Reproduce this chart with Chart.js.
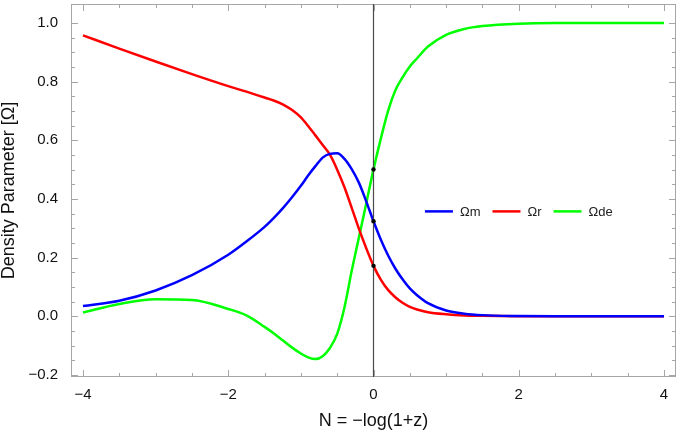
<!DOCTYPE html>
<html>
<head>
<meta charset="utf-8">
<style>
  html, body { margin: 0; padding: 0; background: #fff; }
  #wrap { width: 680px; height: 434px; }
</style>
<script src="https://cdn.jsdelivr.net/npm/chart.js@4.4.0/dist/chart.umd.min.js"></script>
</head>
<body>
<div id="wrap"><canvas id="chart" width="680" height="434"></canvas></div>
<script>
  // N = -log(1+z), shared by all three curves
  const nValues = [-4, -3.5, -3, -2.5, -2, -1.75, -1.5, -1.375, -1.25, -1.125, -1, -0.9, -0.8, -0.7, -0.6, -0.5, -0.4, -0.3, -0.2, -0.1,
                   0, 0.1, 0.2, 0.3, 0.4, 0.5, 0.6, 0.75, 1, 1.25, 1.5, 2, 2.5, 3, 4];

  const omegaM = [0.035, 0.053, 0.088, 0.14, 0.21, 0.255, 0.305, 0.335, 0.368, 0.405, 0.445, 0.48, 0.512, 0.541, 0.554, 0.556, 0.537, 0.502, 0.455, 0.392,
                  0.324, 0.262, 0.208, 0.163, 0.126, 0.095, 0.072, 0.045, 0.02, 0.009, 0.004, 0.001, 0, 0, 0];

  const omegaR = [0.958, 0.913, 0.869, 0.826, 0.785, 0.766, 0.746, 0.736, 0.723, 0.704, 0.678, 0.649, 0.617, 0.584, 0.551, 0.5, 0.44, 0.37, 0.298, 0.232,
                  0.172, 0.125, 0.09, 0.065, 0.046, 0.032, 0.023, 0.014, 0.007, 0.003, 0.0015, 0.0003, 0, 0, 0];

  const omegaDE = [0.013, 0.042, 0.058, 0.056, 0.025, 0.003, -0.036, -0.058, -0.082, -0.106, -0.127, -0.14, -0.146, -0.136, -0.108, -0.06, 0.03, 0.155, 0.27, 0.385,
                   0.501, 0.605, 0.7, 0.77, 0.815, 0.852, 0.88, 0.92, 0.96, 0.98, 0.99, 0.998, 1, 1, 1];

  // present-day values marked at N = 0
  const todayN = [0, 0, 0];
  const todayOmega = [0.501, 0.324, 0.172];

  const seriesLabels = ["\u03A9m", "\u03A9r", "\u03A9de"];
  const xTicks = [-4, -2, 0, 2, 4];
  const yTicks = [-0.2, 0, 0.2, 0.4, 0.6, 0.8, 1.0];
  const xRange = [-4.165, 4.165];
  const yRange = [-0.207, 1.065];

  const FONT = "'Liberation Sans', Arial, sans-serif";

  function pts(xs, ys) {
    return xs.map((x, i) => ({ x: x, y: ys[i] }));
  }

  function curve(label, ys, color) {
    return {
      label: label,
      data: pts(nValues, ys),
      borderColor: color,
      backgroundColor: color,
      borderWidth: 2.5,
      pointRadius: 0,
      cubicInterpolationMode: "monotone",
      fill: false
    };
  }

  // frame with inward ticks on all four sides
  const framePlugin = {
    id: "frame",
    beforeDatasetsDraw(chart) {
      const ctx = chart.ctx;
      const a = chart.chartArea;
      const xs = chart.scales.x, ys = chart.scales.y;
      ctx.save();
      ctx.strokeStyle = "#a6a6a6";
      ctx.lineWidth = 1;
      ctx.strokeRect(a.left + 0.5, a.top + 0.5, a.right - a.left - 1, a.bottom - a.top - 1);

      ctx.beginPath();
      for (let v = -4; v <= 4.001; v += 0.5) {
        const major = Math.abs(v % 2) < 1e-6;
        const len = major ? 7 : 4;
        const px = Math.round(xs.getPixelForValue(v)) + 0.5;
        ctx.moveTo(px, a.bottom); ctx.lineTo(px, a.bottom - len);
        ctx.moveTo(px, a.top); ctx.lineTo(px, a.top + len);
      }
      for (let k = -4; k <= 20; k++) {
        const v = k * 0.05;
        const major = k % 4 === 0;
        const len = major ? 7 : 4;
        const py = Math.round(ys.getPixelForValue(v)) + 0.5;
        ctx.moveTo(a.left, py); ctx.lineTo(a.left + len, py);
        ctx.moveTo(a.right, py); ctx.lineTo(a.right - len, py);
      }
      ctx.stroke();
      ctx.restore();
    }
  };

  // legend row inside the plot
  const legendPlugin = {
    id: "insideLegend",
    afterDatasetsDraw(chart) {
      const ctx = chart.ctx;
      const a = chart.chartArea;
      let x = a.left + 0.585 * (a.right - a.left);
      const y = a.top + 0.556 * (a.bottom - a.top);
      ctx.save();
      ctx.font = "13px " + FONT;
      ctx.textBaseline = "middle";
      ctx.fillStyle = "#222";
      chart.data.datasets.slice(0, 3).forEach(ds => {
        ctx.strokeStyle = ds.borderColor;
        ctx.lineWidth = 2.5;
        ctx.beginPath();
        ctx.moveTo(x, y); ctx.lineTo(x + 28, y);
        ctx.stroke();
        x += 35;
        ctx.fillText(ds.label, x, y + 1);
        x += ctx.measureText(ds.label).width + 12;
      });
      ctx.restore();
    }
  };

  const ctx = document.getElementById("chart").getContext("2d");
  new Chart(ctx, {
    type: "line",
    data: {
      datasets: [
        curve(seriesLabels[0], omegaM, "rgb(0,0,255)"),
        curve(seriesLabels[1], omegaR, "rgb(255,0,0)"),
        curve(seriesLabels[2], omegaDE, "rgb(0,255,0)"),
        {
          label: "N = 0",
          data: pts([0, 0], yRange),
          borderColor: "#4a4a4a",
          borderWidth: 1.2,
          pointRadius: 0,
          fill: false,
          order: -1
        },
        {
          label: "today",
          data: pts(todayN, todayOmega),
          showLine: false,
          pointRadius: 2.2,
          pointBackgroundColor: "#000",
          pointBorderWidth: 0,
          order: -2
        }
      ]
    },
    options: {
      responsive: false,
      animation: false,
      devicePixelRatio: 1,
      layout: { padding: { top: 3, right: 2, left: 0, bottom: 0 } },
      plugins: {
        legend: { display: false },
        tooltip: { enabled: false }
      },
      scales: {
        x: {
          type: "linear",
          min: xRange[0],
          max: xRange[1],
          grid: { display: false, drawTicks: false },
          border: { display: false },
          afterBuildTicks: s => { s.ticks = xTicks.map(v => ({ value: v })); },
          afterFit: s => {
            s.height = 57;
            s.paddingLeft = 0; s.paddingRight = 0;
          },
          ticks: {
            padding: 9,
            maxRotation: 0,
            color: "#111",
            font: { family: FONT, size: 15 },
            callback: v => (v < 0 ? "\u2212" + Math.abs(v) : String(v))
          },
          title: {
            display: true,
            text: "N = \u2212log(1+z)",
            color: "#111",
            font: { family: FONT, size: 18 },
            padding: { top: 0, bottom: 2 }
          }
        },
        y: {
          min: yRange[0],
          max: yRange[1],
          grid: { display: false, drawTicks: false },
          border: { display: false },
          afterBuildTicks: s => { s.ticks = yTicks.map(v => ({ value: v })); },
          afterFit: s => {
            s.width = 71;
            s.paddingTop = 0; s.paddingBottom = 0;
          },
          ticks: {
            padding: 13,
            color: "#111",
            font: { family: FONT, size: 15 },
            callback: v => (v < 0 ? "\u2212" + Math.abs(v).toFixed(1) : v.toFixed(1))
          },
          title: {
            display: true,
            text: "Density Parameter [\u03A9]",
            color: "#111",
            font: { family: FONT, size: 18, lineHeight: 1 },
            padding: { top: 0, bottom: 0 }
          }
        }
      }
    },
    plugins: [framePlugin, legendPlugin]
  });
</script>
</body>
</html>
